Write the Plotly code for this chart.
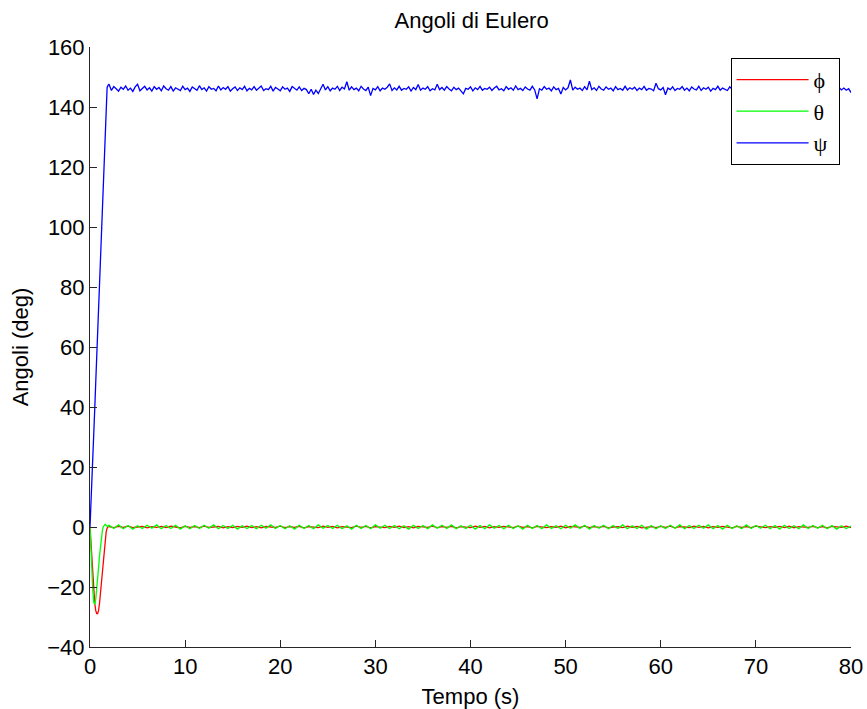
import numpy as np
import plotly.graph_objects as go

# Time grids: fine samples during the initial transient, then regular steps
time_transient = [0.0, 0.1, 0.2, 0.3, 0.4, 0.5, 0.6, 0.7, 0.8, 0.9,
                  1.0, 1.1, 1.2, 1.3, 1.4, 1.5, 1.6, 1.7, 1.8, 1.9]
time_steady = list(np.round(np.arange(2.0, 80.0001, 0.5), 2))
time_steady_psi = list(np.round(np.arange(2.0, 80.0001, 0.25), 2))

# Roll angle phi (deg)
phi_transient = [0, -5, -11, -17, -22, -25.5, -27.8, -28.8, -28.9, -27.8,
                 -25.5, -22.2, -18.3, -14.2, -10.2, -6.6, -3.7, -1.6, -0.4, 0.1]
phi_steady = [
    0.1, -0.2, 0.2, -0.1, 0.3, -0.2, 0.0, 0.2, -0.3, 0.1,
    -0.1, 0.2, -0.2, 0.3, 0.0, -0.3, 0.2, -0.1, 0.1, -0.2,
    0.3, -0.1, 0.0, 0.2, -0.3, 0.1, -0.2, 0.2, -0.1, 0.3,
    -0.2, 0.1, -0.3, 0.2, 0.0, -0.1, 0.3, -0.2, 0.1, -0.1,
    0.2, -0.3, 0.1, 0.0, -0.2, 0.3, -0.1, 0.2, -0.3, 0.1,
    0.0, -0.2, 0.3, -0.1, 0.2, -0.3, 0.1, 0.0, -0.2, 0.2,
    -0.1, 0.3, -0.2, 0.1, -0.3, 0.2, 0.0, -0.1, 0.3, -0.2,
    0.1, -0.1, 0.2, -0.3, 0.1, 0.0, -0.2, 0.3, -0.1, 0.2,
    -0.3, 0.1, -0.1, 0.2, 0.0, -0.2, 0.3, -0.1, 0.1, -0.3,
    0.2, 0.0, -0.2, 0.1, -0.1, 0.3, -0.3, 0.2, 0.0, -0.1,
    0.3, -0.2, 0.1, -0.1, 0.2, -0.3, 0.0, 0.1, -0.2, 0.3,
    -0.1, 0.2, -0.3, 0.0, 0.1, -0.2, 0.2, -0.1, 0.3, -0.3,
    0.1, 0.0, -0.2, 0.3, -0.1, 0.2, -0.3, 0.1, -0.1, 0.2,
    0.0, -0.3, 0.2, -0.1, 0.1, -0.2, 0.3, 0.0, -0.2, 0.1,
    -0.1, 0.2, -0.2, 0.3, -0.3, 0.1, 0.0, -0.1, 0.2, -0.2,
    0.1, -0.3, 0.2, 0.0, -0.1, 0.3, -0.2,
]

# Pitch angle theta (deg)
theta_transient = [0, -8, -15.5, -21.5, -25.2, -25.8, -24.2, -21.3, -17.6, -13.6,
                   -9.7, -6.2, -3.3, -1.2, 0.1, 0.8, 0.9, 0.6, 0.3, 0.1]
theta_steady = [
    0.6, -0.5, 0.7, -0.6, 0.5, -0.7, 0.4, -0.5, 0.6, -0.4,
    0.7, -0.6, 0.5, -0.5, 0.6, -0.7, 0.4, -0.6, 0.5, -0.5,
    0.6, -0.4, 0.7, -0.6, 0.5, -0.5, 0.6, -0.7, 0.4, -0.5,
    0.5, -0.6, 0.6, -0.4, 0.7, -0.5, 0.5, -0.6, 0.4, -0.7,
    0.6, -0.5, 0.5, -0.6, 0.7, -0.4, 0.5, -0.5, 0.6, -0.6,
    0.4, -0.7, 0.6, -0.5, 0.5, -0.6, 0.7, -0.4, 0.6, -0.5,
    0.5, -0.6, 0.4, -0.7, 0.6, -0.5, 0.5, -0.6, 0.7, -0.4,
    0.6, -0.5, 0.7, -0.6, 0.4, -0.5, 0.6, -0.7, 0.5, -0.6,
    0.7, -0.4, 0.5, -0.6, 0.6, -0.5, 0.4, -0.7, 0.6, -0.5,
    0.5, -0.6, 0.7, -0.5, 0.4, -0.6, 0.6, -0.4, 0.7, -0.5,
    0.6, -0.7, 0.5, -0.4, 0.6, -0.6, 0.5, -0.5, 0.7, -0.6,
    0.4, -0.5, 0.6, -0.7, 0.5, -0.6, 0.4, -0.5, 0.6, -0.4,
    0.7, -0.6, 0.5, -0.5, 0.6, -0.4, 0.7, -0.6, 0.5, -0.7,
    0.6, -0.5, 0.4, -0.6, 0.7, -0.5, 0.5, -0.4, 0.6, -0.6,
    0.5, -0.7, 0.6, -0.5, 0.4, -0.6, 0.7, -0.5, 0.5, -0.4,
    0.6, -0.6, 0.5, -0.7, 0.4, -0.5, 0.3,
]

# Yaw angle psi (deg), steady part sampled every 0.25 s
psi_transient = [0, 7, 15, 23, 31, 39.5, 48, 56.5, 65, 73.5,
                 82, 90.5, 99, 107.5, 116, 124.5, 133, 141, 146.5, 147.2]
psi_steady = [
    147.6, 145.5, 146.8, 146.1, 145.3, 146.6, 145.9, 147.0, 145.6, 146.3,
    145.2, 146.7, 147.6, 145.4, 146.2, 146.9, 145.7, 146.4, 145.3, 146.8,
    145.9, 146.5, 145.4, 147.0, 146.1, 145.6, 146.8, 145.3, 146.4, 146.0,
    145.5, 146.9, 145.8, 146.3, 145.2, 146.7, 146.1, 145.6, 147.1, 145.8,
    146.4, 145.3, 146.8, 145.9, 146.2, 145.4, 147.0, 145.7, 146.5, 145.9,
    146.8, 145.3, 146.1, 146.7, 145.5, 146.4, 145.8, 146.9, 145.4, 146.2,
    145.7, 146.8, 145.6, 146.3, 147.0, 145.5, 146.1, 145.8, 146.9, 145.3,
    146.5, 146.0, 145.4, 146.7, 145.9, 146.3, 145.2, 146.8, 146.1, 145.6,
    146.7, 145.5, 146.2, 145.8, 144.4, 145.9, 144.2, 145.6, 144.5, 146.3,
    147.6, 145.7, 146.8, 145.4, 146.3, 145.9, 146.9, 145.5, 146.6, 146.0,
    148.4, 145.6, 146.7, 145.8, 146.3, 145.4, 146.9, 146.0, 145.5, 146.6,
    143.8, 146.2, 145.7, 146.8, 145.4, 146.3, 145.9, 146.6, 147.7, 145.5,
    146.4, 145.7, 146.9, 145.6, 146.2, 145.9, 146.7, 145.3, 146.5, 145.8,
    147.5, 145.6, 146.3, 145.9, 146.8, 145.4, 146.1, 145.7, 147.6, 145.8,
    146.5, 145.6, 146.8, 146.0, 145.4, 146.6, 145.8, 146.3, 145.5, 144.4,
    146.2, 145.9, 146.7, 145.4, 146.4, 145.8, 146.9, 145.6, 146.2, 145.9,
    146.6, 145.5, 146.3, 146.9, 145.7, 146.1, 145.4, 146.8, 145.9, 146.4,
    145.6, 147.0, 145.8, 146.2, 145.5, 146.7, 146.0, 145.6, 146.9, 145.7,
    142.7, 146.1, 145.6, 146.8, 145.9, 146.3, 145.4, 146.7, 145.8, 146.2,
    144.3, 146.5, 145.7, 146.4, 149.0, 145.6, 146.6, 145.9, 146.3, 145.5,
    146.8, 145.7, 148.6, 145.8, 146.4, 145.5, 146.9, 146.0, 145.6, 146.7,
    145.9, 146.3, 145.4, 146.8, 145.8, 146.2, 145.6, 146.9, 145.7, 146.4,
    145.9, 146.6, 145.5, 146.3, 145.8, 146.9, 145.6, 146.2, 146.0, 145.4,
    147.9, 146.1, 145.7, 146.5, 144.1, 146.3, 145.8, 146.7, 145.5, 146.2,
    145.9, 146.8, 145.6, 146.3, 145.4, 146.7, 146.0, 145.7, 146.9, 145.5,
    146.4, 145.9, 146.6, 145.3, 146.2, 145.8, 146.9, 145.6, 146.3, 146.0,
    145.5, 146.7, 145.9, 146.2, 145.6, 146.8, 145.4, 146.3, 146.0, 145.7,
    146.9, 145.5, 146.4, 145.8, 146.6, 145.3, 146.2, 145.9, 146.8, 145.6,
    146.3, 145.7, 146.9, 145.5, 146.1, 145.8, 146.6, 145.4, 146.4, 146.0,
    145.6, 146.8, 145.7, 146.2, 145.4, 146.7, 145.9, 146.3, 145.5, 146.6,
    145.8, 146.4, 145.5, 146.7, 145.9, 146.2, 145.4, 146.5, 145.7, 146.3,
    145.6, 146.1, 144.8,
]

x_ticks = [0, 10, 20, 30, 40, 50, 60, 70, 80]
y_ticks = [-40, -20, 0, 20, 40, 60, 80, 100, 120, 140, 160]

series = [
    ("\u03d5\u00a0", time_transient + time_steady, phi_transient + phi_steady, "#ff0000"),
    ("\u03b8\u00a0", time_transient + time_steady, theta_transient + theta_steady, "#00ff00"),
    ("\u03c8\u00a0", time_transient + time_steady_psi, psi_transient + psi_steady, "#0000ff"),
]

fig = go.Figure()
for name, t, values, color in series:
    fig.add_trace(go.Scatter(
        x=t, y=values, mode="lines", name=name,
        line=dict(color=color, width=1.3),
    ))

axis_common = dict(
    showline=True, linecolor="#262626", linewidth=1, mirror=False,
    ticks="inside", ticklen=7, tickwidth=1, tickcolor="#262626",
    showgrid=False, zeroline=False, automargin=False,
    tickfont=dict(family="Liberation Sans, Arial, sans-serif", size=22, color="#000"),
)

fig.update_layout(
    width=867, height=709,
    margin=dict(l=90, r=16, t=47, b=62, pad=0),
    paper_bgcolor="white", plot_bgcolor="white",
    font=dict(family="Liberation Sans, Arial, sans-serif", color="#000"),
    title=dict(text="Angoli di Eulero", x=0.544, xanchor="center",
               y=0.972, yanchor="middle",
               font=dict(size=22, family="Liberation Sans, Arial, sans-serif")),
    xaxis=dict(range=[0, 80], tickvals=x_ticks, ticktext=[str(v) for v in x_ticks],
               title=dict(text="Tempo (s)", standoff=10,
                          font=dict(size=22)), **axis_common),
    yaxis=dict(range=[-40, 160], tickvals=y_ticks,
               title=dict(text="Angoli (deg)", standoff=12,
                          font=dict(size=22)), **axis_common),
    legend=dict(
        x=0.985, y=0.982, xanchor="right", yanchor="top",
        bgcolor="white", bordercolor="#000", borderwidth=1,
        font=dict(family="Liberation Serif, DejaVu Serif, serif", size=22, color="#000"),
        itemwidth=72, tracegroupgap=0,
    ),
    showlegend=True,
)

fig.write_html("out.html")
